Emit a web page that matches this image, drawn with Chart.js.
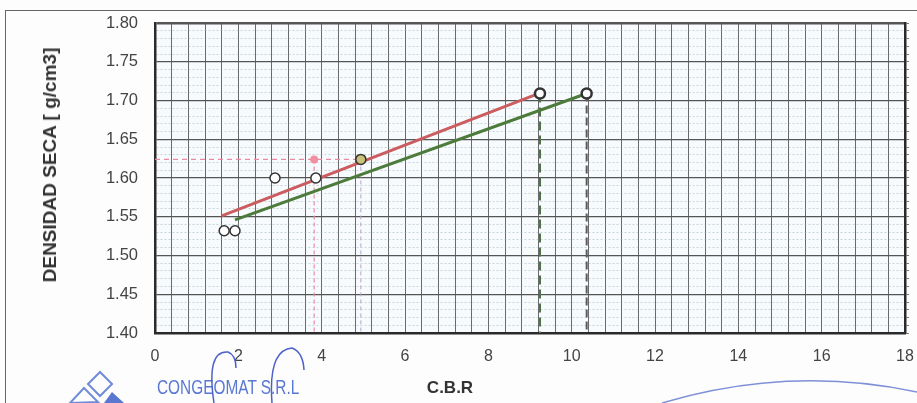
<!DOCTYPE html>
<html>
<head>
<meta charset="utf-8">
<script src="https://cdn.jsdelivr.net/npm/chart.js@4.4.0/dist/chart.umd.min.js"></script>
<style>
  html, body { margin: 0; padding: 0; background: #fdfdfd; }
  #wrap { position: relative; width: 917px; height: 403px; overflow: hidden; font-family: "Liberation Sans", Arial, sans-serif; }
  #frame { position: absolute; left: 5px; top: 10px; width: 930px; height: 420px; border: 1.5px solid #666; box-sizing: border-box; }
  canvas { position: absolute; left: 0; top: 0; }
  .txt { position: absolute; white-space: nowrap; }
  #ytitle { left: 50px; top: 165px; transform: translate(-50%, -50%) rotate(-90deg); font-weight: bold; font-size: 19px; color: #333; }
  #xtitle { left: 450px; top: 388px; transform: translate(-50%, -50%); font-weight: bold; font-size: 17px; color: #333; }
  #company { left: 157px; top: 376px; font-size: 20px; color: #5a78d2; transform-origin: left top; transform: scaleX(0.77); }
  svg { position: absolute; left: 0; top: 0; }
</style>
</head>
<body>
<div id="wrap">
  <div id="frame"></div>
  <canvas id="c" width="917" height="403"></canvas>
  <div class="txt" id="ytitle">DENSIDAD SECA [ g/cm3]</div>
  <div class="txt" id="xtitle">C.B.R</div>
  <div class="txt" id="company">CONGEOMAT S.R.L</div>
  <svg width="917" height="403">
    <path d="M 662 403 Q 790 365 917 392" fill="none" stroke="#7f90d8" stroke-width="1.5"/>
    <path d="M 100 372 L 112 384 L 100 396 L 88 384 Z" fill="none" stroke="#6f8ad8" stroke-width="2"/>
    <path d="M 84 388 L 98 402 L 70 403 Z" fill="none" stroke="#6f8ad8" stroke-width="2"/>
    <path d="M 112 392 L 124 403 L 104 403 Z" fill="#5a78d2"/>
    <path d="M 214 403 Q 206 350 228 352 Q 236 355 236 368" fill="none" stroke="#4d62c8" stroke-width="1.5"/>
    <path d="M 272 403 Q 268 350 292 348 Q 303 352 304 370" fill="none" stroke="#4d62c8" stroke-width="1.5"/>
  </svg>
</div>
<script>
// ---- data ----
const cbrPoints     = [1.66, 1.92, 2.88, 3.86, 4.94, 9.24, 10.36];
const densityPoints = [1.532, 1.532, 1.600, 1.600, 1.624, 1.709, 1.709];
const redLineX  = [1.60, 9.20];
const redLineY  = [1.551, 1.709];
const greenLineX = [1.92, 10.36];
const greenLineY = [1.546, 1.709];
const targetDensity = 1.624;
const targetCbr = 3.82;
const cbrAtTargetGreen = 4.94;
const maxDensity = 1.709;
const cbrAtMaxRed = 9.24;
const cbrAtMaxGreen = 10.36;
const xTickLabels = [0, 2, 4, 6, 8, 10, 12, 14, 16, 18];
const yTickLabels = ["1.40","1.45","1.50","1.55","1.60","1.65","1.70","1.75","1.80"];
const xMin = 0, xMax = 18, xStep = 0.4;
const yMin = 1.40, yMax = 1.80, yStep = 0.01;

const pts = (xs, ys) => xs.map((x, i) => ({x, y: ys[i]}));
const isXLabel = v => xTickLabels.some(t => Math.abs(t - v) < 1e-6);
const isYMajor = v => yTickLabels.some(t => Math.abs(parseFloat(t) - v) < 1e-6);

const bgPlugin = {
  id: 'bg',
  beforeDraw(chart) {
    const {ctx, chartArea: a} = chart;
    ctx.save();
    ctx.fillStyle = '#f7fbfd';
    ctx.fillRect(a.left, a.top, a.right - a.left, a.bottom - a.top);
    ctx.restore();
  }
};

new Chart(document.getElementById('c'), {
  type: 'scatter',
  data: {
    datasets: [
      { type: 'line', data: pts(redLineX, redLineY), borderColor: '#cb5c60', borderWidth: 3, pointRadius: 0, order: 3 },
      { type: 'line', data: pts(greenLineX, greenLineY), borderColor: '#4d7b3b', borderWidth: 3, pointRadius: 0, order: 2 },
      { type: 'line', data: [{x: xMin, y: targetDensity}, {x: cbrAtTargetGreen, y: targetDensity}], borderColor: '#e98aa2', borderWidth: 1.2, borderDash: [5, 4], pointRadius: 0, order: 6 },
      { type: 'line', data: [{x: targetCbr, y: targetDensity}, {x: targetCbr, y: yMin}], borderColor: '#e98aa2', borderWidth: 1.2, borderDash: [4, 3], pointRadius: 0, order: 6 },
      { type: 'line', data: [{x: cbrAtTargetGreen, y: targetDensity}, {x: cbrAtTargetGreen, y: yMin}], borderColor: '#b8a3c8', borderWidth: 1, borderDash: [4, 3], pointRadius: 0, order: 6 },
      { type: 'line', data: [{x: cbrAtMaxRed, y: maxDensity}, {x: cbrAtMaxRed, y: yMin}], borderColor: '#4f7349', borderWidth: 2, borderDash: [9, 5], pointRadius: 0, order: 5 },
      { type: 'line', data: [{x: cbrAtMaxGreen, y: maxDensity}, {x: cbrAtMaxGreen, y: yMin}], borderColor: '#5a5a5a', borderWidth: 2, borderDash: [8, 4], pointRadius: 0, order: 5 },
      { data: pts(cbrPoints, densityPoints),
        pointRadius: 5,
        pointBackgroundColor: cbrPoints.map(x => Math.abs(x - cbrAtTargetGreen) < 1e-6 ? '#c9c27a' : '#ffffff'),
        pointBorderColor: '#333',
        pointBorderWidth: cbrPoints.map(x => x > 9 ? 2.5 : 1.5),
        order: 1 },
      { data: [{x: targetCbr, y: targetDensity}], pointRadius: 4, pointBackgroundColor: '#f08fa2', pointBorderColor: '#f08fa2', pointBorderWidth: 0, order: 1 }
    ]
  },
  options: {
    responsive: false,
    animation: false,
    layout: { padding: { top: 23, left: 0, right: 0, bottom: 0 } },
    plugins: { legend: { display: false }, tooltip: { enabled: false } },
    scales: {
      x: {
        type: 'linear', min: xMin, max: xMax,
        afterFit(s) { s.height = 70; s.paddingLeft = 0; s.paddingRight = 0; },
        ticks: {
          stepSize: xStep, autoSkip: false, maxRotation: 0, padding: 14,
          font: { family: 'Liberation Sans', size: 16 }, color: '#444',
          callback: v => isXLabel(v) ? String(Math.round(v)) : ''
        },
        grid: { color: '#6a6a6a', lineWidth: 1, drawTicks: false },
        border: { display: true, color: '#2a2a2a', width: 2.5 }
      },
      y: {
        type: 'linear', min: yMin, max: yMax,
        afterFit(s) { s.width = 155; s.paddingTop = 0; s.paddingBottom = 0; },
        ticks: {
          stepSize: yStep, autoSkip: false, padding: 17,
          font: { family: 'Liberation Sans', size: 16.5 }, color: '#444',
          callback: v => isYMajor(v) ? v.toFixed(2) : ''
        },
        grid: {
          drawTicks: false,
          color: ctx => (ctx.tick && isYMajor(ctx.tick.value)) ? '#555' : 'rgba(150,160,170,0.55)',
          lineWidth: ctx => (ctx.tick && Math.abs(ctx.tick.value - yMax) < 1e-6) ? 2.5 : ((ctx.tick && isYMajor(ctx.tick.value)) ? 1.2 : 0.8)
        },
        border: { display: true, color: '#2a2a2a', width: 2.5,
          dash: ctx => (ctx.tick && !isYMajor(ctx.tick.value)) ? [2, 2] : [] }
      },
      y2: {
        type: 'linear', position: 'right', min: yMin, max: yMax,
        afterFit(s) { s.width = 12; s.paddingTop = 0; s.paddingBottom = 0; },
        ticks: { display: false, stepSize: yStep, autoSkip: false },
        grid: { drawOnChartArea: false, drawTicks: true, tickLength: 4, tickColor: '#777', lineWidth: 1 },
        border: { display: true, color: '#2a2a2a', width: 2.5 }
      }
    }
  },
  plugins: [bgPlugin]
});
</script>
</body>
</html>
